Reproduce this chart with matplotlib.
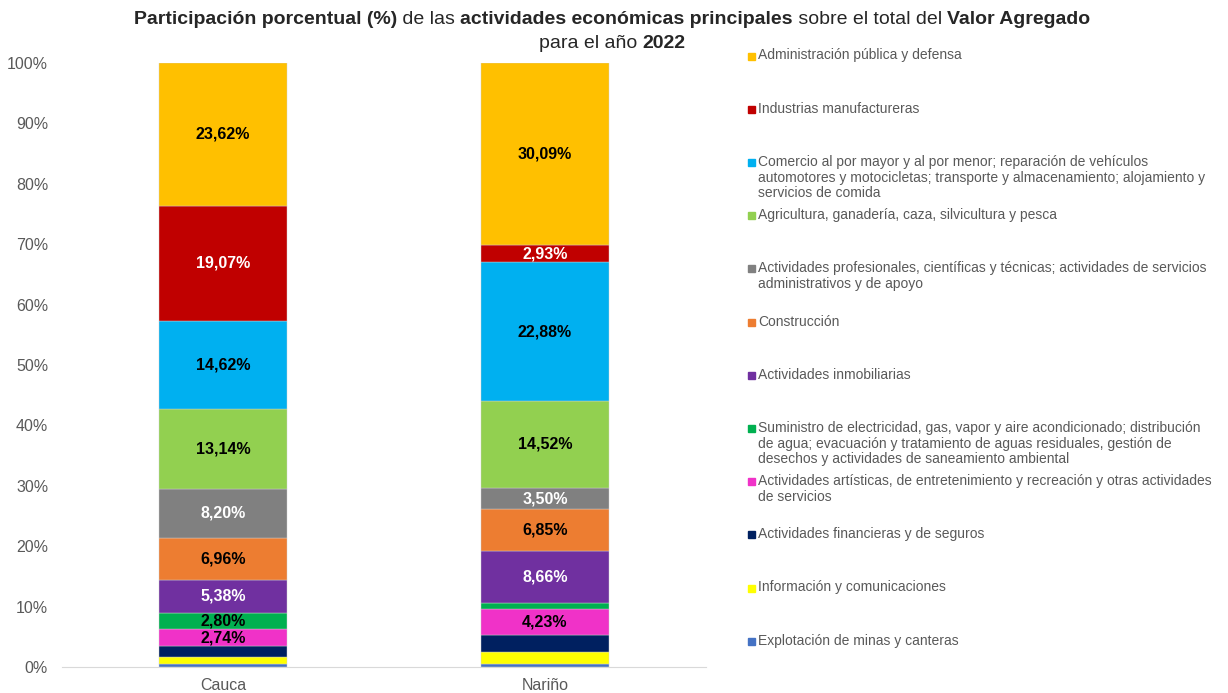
import numpy as np
import matplotlib
matplotlib.use('Agg')
import matplotlib.pyplot as plt
from matplotlib.patches import Rectangle

plt.rcParams['font.family'] = ['Liberation Sans', 'DejaVu Sans']

regions = ['Cauca', 'Nariño']

# bottom-up stacking order
sectors = [
    'Explotación de minas y canteras',
    'Información y comunicaciones',
    'Actividades financieras y de seguros',
    'Actividades artísticas, de entretenimiento y recreación y otras actividades\nde servicios',
    'Suministro de electricidad, gas, vapor y aire acondicionado; distribución\nde agua; evacuación y tratamiento de aguas residuales, gestión de\ndesechos y actividades de saneamiento ambiental',
    'Actividades inmobiliarias',
    'Construcción',
    'Actividades profesionales, científicas y técnicas; actividades de servicios\nadministrativos y de apoyo',
    'Agricultura, ganadería, caza, silvicultura y pesca',
    'Comercio al por mayor y al por menor; reparación de vehículos\nautomotores y motocicletas; transporte y almacenamiento; alojamiento y\nservicios de comida',
    'Industrias manufactureras',
    'Administración pública y defensa',
]

cauca = [0.55, 1.17, 1.75, 2.74, 2.80, 5.38, 6.96, 8.20, 13.14, 14.62, 19.07, 23.62]
narino = [0.50, 2.00, 2.80, 4.23, 1.04, 8.66, 6.85, 3.50, 14.52, 22.88, 2.93, 30.09]

colors = ['#4472C4', '#FFFF00', '#002060', '#F032C8', '#00B050', '#7030A0',
          '#ED7D31', '#808080', '#92D050', '#00B0F0', '#C00000', '#FFC000']
label_colors = ['k', 'k', 'k', 'k', 'k', 'white', 'k', 'white', 'k', 'k', 'white', 'k']
no_label = {0, 1, 2}

fig = plt.figure(figsize=(12.28, 6.93), dpi=100)
ax = fig.add_axes([62 / 1228, 1 - 667 / 693, 644 / 1228, (667 - 63) / 693])

data = np.array([cauca, narino]).T
x = np.arange(len(regions))
bottom = np.zeros(len(regions))
for i, sec in enumerate(sectors):
    ax.bar(x, data[i], 0.4, bottom=bottom, color=colors[i],
           edgecolor='#d0d0d0', linewidth=0.3)
    for j in range(len(regions)):
        v = data[i, j]
        if i in no_label or v < 2.5:
            continue
        ax.text(x[j], bottom[j] + v / 2, f'{v:.2f}%'.replace('.', ','),
                ha='center', va='center', fontsize=11.5, fontweight='bold',
                color=label_colors[i])
    bottom += data[i]

ax.set_xlim(-0.5, 1.5)
ax.set_ylim(0, 100)
ax.set_yticks(np.arange(0, 101, 10))
ax.set_yticklabels([f'{t}%' for t in range(0, 101, 10)])
ax.set_xticks(x)
ax.set_xticklabels(regions)
ax.tick_params(axis='both', length=0, labelsize=11.5, colors='#595959', pad=8)
ax.tick_params(axis='y', pad=10)
for s in ['top', 'right', 'left']:
    ax.spines[s].set_visible(False)
ax.spines['bottom'].set_color('#d9d9d9')

# legend, top entry first
W, H = 1228, 693
for k, i in enumerate(range(len(sectors) - 1, -1, -1)):
    yc = 56 + k * 53.2
    fig.patches.append(Rectangle((748 / W, 1 - (yc + 3.5) / H), 7 / W, 7 / H,
                                 transform=fig.transFigure, color=colors[i]))
    fig.text(758 / W, 1 - (yc - 7.5) / H, sectors[i], ha='left', va='top',
             fontsize=10, color='#595959', linespacing=1.15)

# title with mixed weights
renderer = fig.canvas.get_renderer()
lines = [
    [('Participación porcentual (%)', 'bold'), (' de las ', 'normal'),
     ('actividades económicas principales', 'bold'), (' sobre el total del ', 'normal'),
     ('Valor Agregado', 'bold')],
    [('para el año ', 'normal'), ('2022', 'bold')],
]
for li, parts in enumerate(lines):
    y = 1 - (20 + li * 23) / H
    texts = [fig.text(0, y, s, fontsize=14, fontweight=w, color='#262626',
                      va='center') for s, w in parts]
    widths = [t.get_window_extent(renderer).width for t in texts]
    xpos = 612 - sum(widths) / 2
    for t, w in zip(texts, widths):
        t.set_x(xpos / W)
        xpos += w

fig.savefig('out.png', dpi=100)
